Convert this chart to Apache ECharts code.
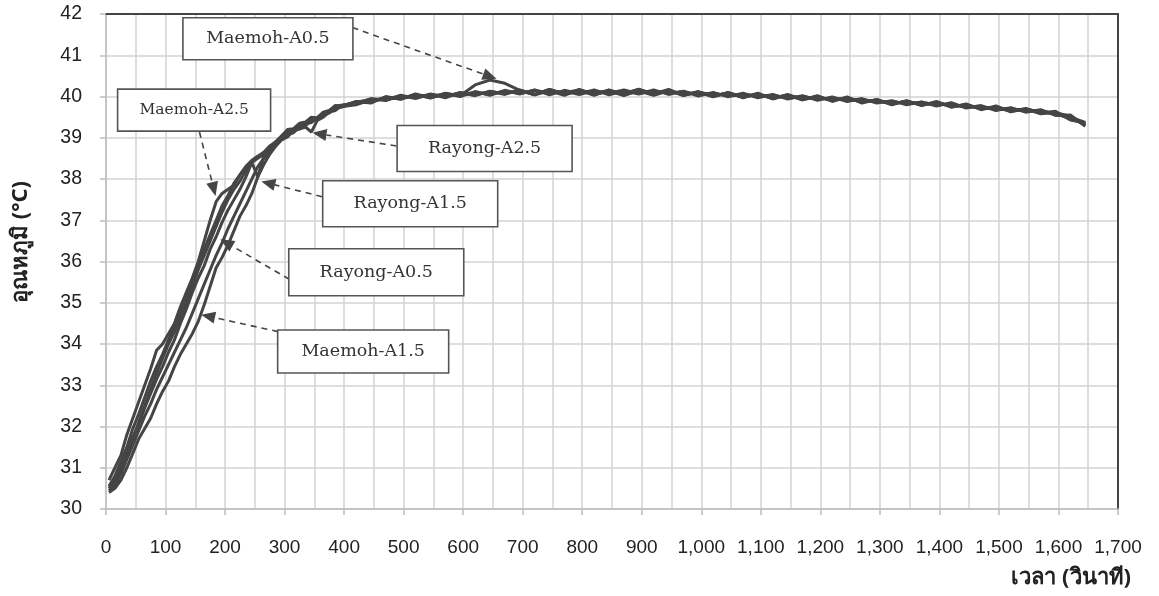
<!DOCTYPE html>
<html>
<head>
<meta charset="utf-8">
<script src="https://cdn.jsdelivr.net/npm/echarts@6/dist/echarts.min.js"></script>
<style>
  html, body { margin: 0; padding: 0; background: #ffffff; }
  #chart { width: 1159px; height: 596px; }
</style>
</head>
<body>
<div id="chart"></div>
<script>
// Elapsed time of each reading (s)
const seconds = [
  5, 15, 25, 35, 45, 55, 65, 75, 85, 95,
  105, 115, 125, 135, 145, 155, 165, 175, 185, 195,
  205, 215, 225, 235, 245, 255, 265, 275, 285, 295,
  305, 315, 325, 335, 345, 355, 365, 375, 385, 395,
  420, 445, 470, 495, 520, 545, 570, 595, 620, 645,
  670, 695, 720, 745, 770, 795, 820, 845, 870, 895,
  920, 945, 970, 995, 1020, 1045, 1070, 1095, 1120, 1145,
  1170, 1195, 1220, 1245, 1270, 1295, 1320, 1345, 1370, 1395,
  1420, 1445, 1470, 1495, 1520, 1545, 1570, 1595, 1620, 1645
];

// Temperature readings (°C) for each sample
const maemohA05 = [
  30.45, 30.6, 30.9, 31.3, 31.7, 32.1, 32.5, 32.9, 33.3, 33.65,
  34.0, 34.3, 34.65, 35.0, 35.4, 35.8, 36.15, 36.5, 36.85, 37.2,
  37.5, 37.75, 37.95, 38.2, 38.4, 38.5, 38.6, 38.75, 38.9, 39.05,
  39.2, 39.22, 39.35, 39.38, 39.5, 39.48, 39.62, 39.66, 39.78, 39.76,
  39.88, 39.84, 40.0, 39.93, 40.06, 39.97, 40.08, 40.02, 40.28, 40.4,
  40.32, 40.15, 40.04, 40.17, 40.06, 40.15, 40.03, 40.16, 40.05, 40.18,
  40.04, 40.15, 40.02, 40.12, 39.99, 40.1, 39.97, 40.08, 39.94, 40.05,
  39.92, 40.02, 39.88, 39.99, 39.84, 39.93, 39.8, 39.9, 39.78, 39.88,
  39.74, 39.82, 39.68, 39.77, 39.63, 39.71, 39.6, 39.64, 39.43, 39.36
];
const maemohA15 = [
  30.4, 30.5, 30.7, 31.0, 31.35, 31.7, 31.95, 32.2, 32.55, 32.85,
  33.1, 33.45, 33.75, 34.0, 34.25, 34.55, 34.95, 35.4, 35.85, 36.1,
  36.4, 36.75, 37.1, 37.35, 37.65, 38.05, 38.35, 38.6, 38.8, 38.95,
  39.02, 39.18, 39.22, 39.34, 39.37, 39.48, 39.52, 39.64, 39.68, 39.78,
  39.82, 39.95, 39.9, 40.03, 39.95, 40.06, 39.97, 40.1, 40.02, 40.13,
  40.05, 40.16, 40.04, 40.14, 40.03, 40.17, 40.05, 40.13, 40.02, 40.15,
  40.06, 40.17, 40.03, 40.1, 40.0, 40.09, 39.98, 40.06, 39.95, 40.03,
  39.92, 40.0, 39.9, 39.97, 39.86, 39.92, 39.81, 39.89, 39.79, 39.86,
  39.75, 39.8, 39.7, 39.74, 39.64, 39.7, 39.58, 39.61, 39.52, 39.3
];
const maemohA25 = [
  30.7, 31.0, 31.3, 31.8, 32.2, 32.6, 33.0, 33.4, 33.85, 34.0,
  34.25, 34.5, 34.9, 35.25, 35.6, 36.0, 36.5, 37.0, 37.45, 37.65,
  37.75, 37.85, 38.1, 38.3, 38.45, 38.55, 38.6, 38.7, 38.85, 39.0,
  39.12, 39.18, 39.33, 39.32, 39.47, 39.46, 39.58, 39.62, 39.77, 39.74,
  39.87, 39.88, 39.98, 39.94, 40.05, 39.96, 40.07, 40.0, 40.12, 40.03,
  40.15, 40.06, 40.16, 40.04, 40.15, 40.07, 40.16, 40.04, 40.14, 40.06,
  40.16, 40.05, 40.13, 40.01, 40.1, 39.99, 40.08, 39.97, 40.05, 39.94,
  40.02, 39.91, 39.99, 39.88, 39.95, 39.84, 39.9, 39.8, 39.87, 39.77,
  39.85, 39.72, 39.78, 39.66, 39.73, 39.62, 39.68, 39.54, 39.55, 39.28
];
const rayongA05 = [
  30.5, 30.55, 30.85, 31.2, 31.55, 31.9, 32.25, 32.55, 32.9, 33.2,
  33.5, 33.8, 34.1, 34.4, 34.75, 35.1, 35.45, 35.8, 36.15, 36.45,
  36.8, 37.1, 37.4, 37.7, 38.0, 38.3, 38.5, 38.65, 38.8, 38.95,
  39.08, 39.12, 39.27, 39.29, 39.42, 39.47, 39.57, 39.6, 39.72, 39.75,
  39.8, 39.92, 39.92, 40.0, 39.99, 40.04, 40.0, 40.09, 40.04, 40.12,
  40.07, 40.14, 40.05, 40.17, 40.06, 40.12, 40.07, 40.15, 40.04, 40.13,
  40.03, 40.14, 40.04, 40.11, 40.03, 40.07, 40.0, 40.05, 39.97, 40.03,
  39.95, 39.98, 39.92, 39.95, 39.88, 39.9, 39.83, 39.88, 39.8, 39.85,
  39.77, 39.78, 39.72, 39.72, 39.67, 39.69, 39.62, 39.6, 39.48, 39.34
];
const rayongA15 = [
  30.5, 30.7, 31.0, 31.4, 31.75, 32.05, 32.45, 32.8, 33.15, 33.45,
  33.8, 34.1, 34.5, 34.85, 35.25, 35.6, 35.9, 36.3, 36.6, 36.95,
  37.25, 37.5, 37.75, 38.05, 38.4, 38.05, 38.55, 38.75, 38.9, 39.0,
  39.14, 39.16, 39.3, 39.33, 39.44, 39.49, 39.6, 39.63, 39.77, 39.79,
  39.84, 39.87, 39.97, 39.96, 40.03, 39.99, 40.06, 40.03, 40.1, 40.05,
  40.13, 40.07, 40.15, 40.08, 40.13, 40.05, 40.14, 40.08, 40.16, 40.07,
  40.13, 40.08, 40.12, 40.04, 40.08, 40.02, 40.06, 40.0, 40.03, 39.96,
  40.0, 39.94, 39.96, 39.9, 39.93, 39.86, 39.88, 39.83, 39.86, 39.8,
  39.82, 39.74, 39.76, 39.68, 39.7, 39.64, 39.66, 39.56, 39.5, 39.37
];
const rayongA25 = [
  30.55, 30.8, 31.15, 31.5, 31.95, 32.3, 32.7, 33.1, 33.45, 33.75,
  34.1, 34.45, 34.8, 35.15, 35.5, 35.9, 36.3, 36.65, 37.0, 37.35,
  37.6, 37.9, 38.1, 38.3, 38.45, 38.55, 38.65, 38.8, 38.9, 39.0,
  39.1, 39.17, 39.21, 39.26, 39.14, 39.42, 39.5, 39.62, 39.66, 39.77,
  39.86, 39.93, 39.94, 40.01, 39.97, 40.05, 40.01, 40.08, 40.05, 40.11,
  40.08, 40.15, 40.06, 40.13, 40.09, 40.16, 40.06, 40.12, 40.08, 40.17,
  40.07, 40.12, 40.06, 40.09, 40.02, 40.08, 40.01, 40.04, 39.99, 40.01,
  39.96, 39.97, 39.93, 39.94, 39.9, 39.89, 39.85, 39.86, 39.82, 39.83,
  39.79, 39.77, 39.74, 39.71, 39.69, 39.67, 39.65, 39.59, 39.46, 39.33
];

const seriesNames = ['Maemoh-A0.5', 'Maemoh-A1.5', 'Maemoh-A2.5', 'Rayong-A0.5', 'Rayong-A1.5', 'Rayong-A2.5'];
const seriesValues = [maemohA05, maemohA15, maemohA25, rayongA05, rayongA15, rayongA25];

const xAxisTitle = 'เวลา (วินาที)';
const yAxisTitle = 'อุณหภูมิ (°C)';

// Callout boxes: label, box centre, where the dashed leader leaves the box, and where the arrow points (data coords)
const callouts = [
  { label: 'Maemoh-A0.5', box: [272, 41.40], tail: [414, 41.67], tip: [656, 40.43], w: 170, h: 42, size: 17.5 },
  { label: 'Maemoh-A2.5', box: [148, 39.67], tail: [157, 39.14], tip: [184, 37.59], w: 153, h: 42, size: 15.5 },
  { label: 'Rayong-A2.5', box: [636, 38.74], tail: [488, 38.80], tip: [347, 39.12], w: 175, h: 46, size: 17.5 },
  { label: 'Rayong-A1.5', box: [511, 37.40], tail: [363, 37.57], tip: [261, 37.94], w: 175, h: 46, size: 17.5 },
  { label: 'Rayong-A0.5', box: [454, 35.74], tail: [308, 35.57], tip: [192, 36.54], w: 175, h: 47, size: 17.5 },
  { label: 'Maemoh-A1.5', box: [432, 33.82], tail: [289, 34.30], tip: [160, 34.71], w: 171, h: 43, size: 17.5 }
];

const gridColor = '#d3d3d3';
const lineColor = '#454545';
const labelFont = "'Liberation Sans', Arial, Helvetica, sans-serif";

const chart = echarts.init(document.getElementById('chart'), null, { renderer: 'canvas' });

const option = {
  animation: false,
  backgroundColor: '#ffffff',
  grid: { left: 106, right: 41, top: 14, bottom: 87, containLabel: false },
  xAxis: [
    {
      type: 'value', min: 0, max: 1700, interval: 100, position: 'bottom',
      axisLine: { show: true, onZero: false, lineStyle: { color: '#bdbdbd', width: 1.5 } },
      axisTick: { show: true, length: 6, lineStyle: { color: '#bdbdbd', width: 1.5 } },
      minorTick: { show: false, splitNumber: 2 },
      minorSplitLine: { show: true, lineStyle: { color: gridColor, width: 1.5 } },
      splitLine: { show: true, lineStyle: { color: gridColor, width: 1.5 } },
      axisLabel: {
        margin: 29, color: '#222', fontSize: 19, fontFamily: labelFont,
        formatter: v => v.toLocaleString('en-US')
      }
    },
    {
      type: 'value', min: 0, max: 1700, position: 'top',
      axisLine: { show: true, onZero: false, lineStyle: { color: '#444', width: 2 } },
      axisTick: { show: false }, axisLabel: { show: false }, splitLine: { show: false }
    }
  ],
  yAxis: [
    {
      type: 'value', min: 30, max: 42, interval: 1, position: 'left',
      axisLine: { show: true, onZero: false, lineStyle: { color: '#bdbdbd', width: 1.5 } },
      axisTick: { show: true, length: 6, lineStyle: { color: '#bdbdbd', width: 1.5 } },
      splitLine: { show: true, lineStyle: { color: gridColor, width: 1.5 } },
      axisLabel: { margin: 24, color: '#222', fontSize: 19.5, fontFamily: labelFont }
    },
    {
      type: 'value', min: 30, max: 42, position: 'right',
      axisLine: { show: true, onZero: false, lineStyle: { color: '#444', width: 2 } },
      axisTick: { show: false }, axisLabel: { show: false }, splitLine: { show: false }
    }
  ],
  series: seriesNames.map((name, k) => ({
    name: name,
    type: 'line',
    xAxisIndex: 0,
    yAxisIndex: 0,
    showSymbol: false,
    symbol: 'none',
    lineStyle: { color: lineColor, width: 3 },
    data: seconds.map((t, i) => [t, seriesValues[k][i]])
  }))
};

chart.setOption(option);

// Callouts and axis titles, placed through the axes' own coordinate conversion
function toPx(p) { return chart.convertToPixel({ xAxisIndex: 0, yAxisIndex: 0 }, p); }

const elements = [];
callouts.forEach(c => {
  const centre = toPx(c.box);
  const tail = toPx(c.tail);
  const tip = toPx(c.tip);
  const dx = tip[0] - tail[0], dy = tip[1] - tail[1];
  const len = Math.hypot(dx, dy);
  const ux = dx / len, uy = dy / len;
  const headLen = 14, headHalf = 6;
  const base = [tip[0] - ux * headLen, tip[1] - uy * headLen];
  elements.push({
    type: 'line', z: 100,
    shape: { x1: tail[0], y1: tail[1], x2: base[0], y2: base[1] },
    style: { stroke: '#454545', lineWidth: 1.6, lineDash: [6, 5] }
  });
  elements.push({
    type: 'polygon', z: 100,
    shape: { points: [tip, [base[0] - uy * headHalf, base[1] + ux * headHalf], [base[0] + uy * headHalf, base[1] - ux * headHalf]] },
    style: { fill: '#454545' }
  });
  elements.push({
    type: 'rect', z: 101,
    shape: { x: centre[0] - c.w / 2, y: centre[1] - c.h / 2, width: c.w, height: c.h },
    style: { fill: '#ffffff', stroke: '#555555', lineWidth: 1.6 }
  });
  elements.push({
    type: 'text', z: 102, x: centre[0], y: centre[1],
    style: {
      text: c.label, fill: '#333333',
      font: c.size + "px 'DejaVu Serif', 'Liberation Serif', serif",
      align: 'center', verticalAlign: 'middle',
      textAlign: 'center', textVerticalAlign: 'middle'
    }
  });
});

elements.push({
  type: 'text', z: 102, x: 21, y: 242, rotation: Math.PI / 2,
  style: {
    text: yAxisTitle, fill: '#222',
    font: "bold 22px 'Noto Sans', 'DejaVu Sans', sans-serif",
    align: 'center', verticalAlign: 'middle',
    textAlign: 'center', textVerticalAlign: 'middle'
  }
});
elements.push({
  type: 'text', z: 102, x: 1131, y: 578,
  style: {
    text: xAxisTitle, fill: '#222',
    font: "bold 22px 'Noto Sans', 'DejaVu Sans', sans-serif",
    align: 'right', verticalAlign: 'middle',
    textAlign: 'right', textVerticalAlign: 'middle'
  }
});

chart.setOption({ graphic: { elements: elements } });
</script>
</body>
</html>
